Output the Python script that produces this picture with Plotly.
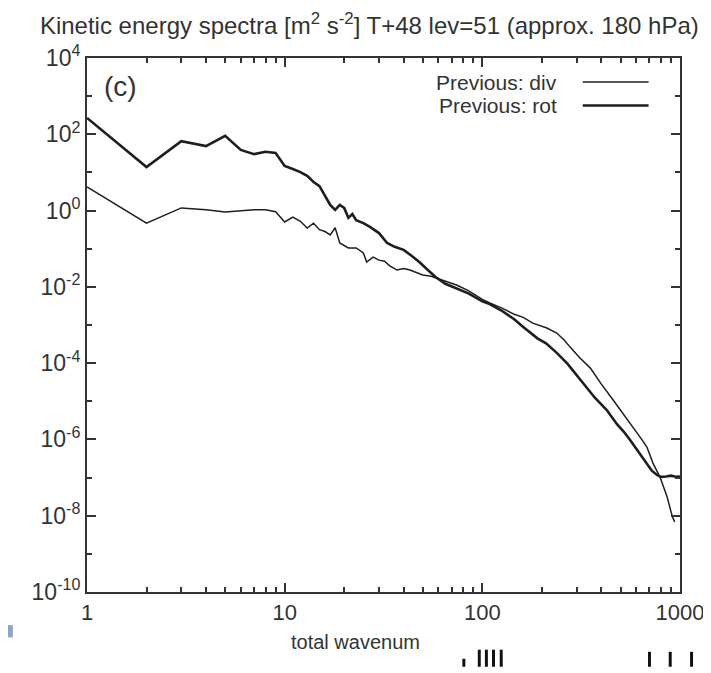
import plotly.graph_objects as go

# ---- data (log10 of spectral energy) ----
k_div = [1, 2, 3, 4, 5, 6, 7, 8, 9, 10, 11, 12, 13, 14, 15, 16, 17, 18, 19, 21, 23, 25, 26, 28, 30,
         32, 34, 37, 40, 43, 46, 50, 55, 59, 65, 74, 85, 100, 109, 125, 145, 161, 180, 212, 238,
         260, 278, 310, 352, 400, 458, 520, 580, 640, 680, 730, 794, 860, 915, 940]
log_div = [0.62, -0.33, 0.07, 0.02, -0.04, -0.01, 0.02, 0.02, -0.03, -0.30, -0.17, -0.28, -0.46,
           -0.33, -0.50, -0.55, -0.64, -0.45, -0.85, -0.98, -0.98, -1.11, -1.35, -1.22, -1.30,
           -1.33, -1.45, -1.56, -1.52, -1.56, -1.62, -1.69, -1.72, -1.77, -1.85, -1.95, -2.10,
           -2.33, -2.42, -2.55, -2.72, -2.80, -2.95, -3.08, -3.21, -3.40, -3.58, -3.85, -4.13,
           -4.55, -4.96, -5.35, -5.67, -6.00, -6.20, -6.62, -7.00, -7.50, -8.03, -8.16]

k_rot = [1, 2, 3, 4, 5, 6, 7, 8, 9, 10, 11, 12, 13, 14, 15, 16, 17, 18, 19, 20, 21, 22, 23, 25,
         27, 30, 33, 36, 40, 44, 48, 53, 58, 65, 74, 85, 100, 109, 125, 145, 161, 190, 210, 238,
         270, 300, 323, 370, 426, 480, 520, 558, 620, 680, 720, 765, 800, 850, 900, 950, 1000]
log_rot = [2.43, 1.14, 1.82, 1.69, 1.96, 1.59, 1.48, 1.54, 1.51, 1.17, 1.09, 1.01, 0.91, 0.75,
           0.64, 0.38, 0.15, 0.02, 0.15, 0.07, -0.19, -0.09, -0.25, -0.33, -0.43, -0.59, -0.85,
           -0.95, -1.03, -1.19, -1.35, -1.56, -1.74, -1.92, -2.05, -2.17, -2.38, -2.45, -2.62,
           -2.85, -3.05, -3.35, -3.48, -3.73, -4.02, -4.30, -4.52, -4.90, -5.23, -5.60, -5.80,
           -6.01, -6.35, -6.62, -6.82, -6.93, -6.98, -6.97, -6.95, -6.98, -6.97]

x_major = [1, 10, 100, 1000]
x_labels = ["1", "10", "100", "1000"]
y_exp_major = [4, 2, 0, -2, -4, -6, -8, -10]
y_exp_minor = [3, 1, -1, -3, -5, -7, -9]

title_text = "Kinetic energy spectra [m<sup>2</sup> s<sup>-2</sup>] T+48 lev=51 (approx. 180 hPa)"
legend_names = ["Previous: div", "Previous: rot"]
xlabel_text = "total wavenum"
panel_text = "(c)"

FONT = "Liberation Sans, Arial, sans-serif"
INK = "#1e1e1e"
GREY = "#333333"

e_div = [10 ** v for v in log_div]
e_rot = [10 ** v for v in log_rot]

fig = go.Figure()
fig.add_trace(go.Scatter(x=k_div, y=e_div, mode="lines", name=legend_names[0],
                         line=dict(color=INK, width=1.5)))
fig.add_trace(go.Scatter(x=k_rot, y=e_rot, mode="lines", name=legend_names[1],
                         line=dict(color=INK, width=2.6)))

x_minor = [m * d for d in [1, 10, 100] for m in range(2, 10)]

# page body has an 8px margin, so the figure is 8px smaller than the window
fig.update_layout(
    width=703, height=665,
    margin=dict(l=79, r=31, t=50, b=81),
    paper_bgcolor="white", plot_bgcolor="white",
    showlegend=False,
    font=dict(family=FONT, color=GREY, size=22),
    title=dict(text=title_text, x=0.514, xanchor="center", y=0.974, yanchor="middle",
               font=dict(family=FONT, size=24, color=GREY)),
    xaxis=dict(type="log", range=[0, 3], showgrid=False, zeroline=False, automargin=False,
               showline=True, linecolor=GREY, linewidth=2, mirror="allticks",
               ticks="inside", ticklen=9, tickwidth=1.5, tickcolor=GREY,
               tickmode="array", tickvals=x_major, ticktext=x_labels,
               tickfont=dict(size=22),
               minor=dict(tickmode="array", tickvals=x_minor, ticks="inside", ticklen=5,
                          tickwidth=1.5, tickcolor=GREY, showgrid=False)),
    yaxis=dict(type="log", range=[-10, 4], showgrid=False, zeroline=False, automargin=False,
               showline=True, linecolor=GREY, linewidth=2, mirror="allticks",
               ticks="inside", ticklen=9, tickwidth=1.5, tickcolor=GREY,
               tickmode="array", tickvals=[10.0 ** e for e in y_exp_major],
               ticktext=["10<sup>%d</sup>" % e for e in y_exp_major],
               tickfont=dict(size=23),
               minor=dict(tickmode="array", tickvals=[10.0 ** e for e in y_exp_minor],
                          ticks="inside", ticklen=5, tickwidth=1.5, tickcolor=GREY,
                          showgrid=False)),
)

# panel label
fig.add_annotation(text=panel_text, xref="paper", yref="paper", x=0.056, y=0.946,
                   showarrow=False, font=dict(size=28, color=GREY), xanchor="center",
                   yanchor="middle")

# gnuplot-style key: text then line sample
for i, (name, w) in enumerate(zip(legend_names, [1.5, 2.6])):
    yy = 0.955 - i * 0.044
    fig.add_annotation(text=name, xref="paper", yref="paper", x=0.796, y=yy,
                       xanchor="right", yanchor="middle", showarrow=False,
                       font=dict(size=21, color=GREY))
    fig.add_shape(type="line", xref="paper", yref="paper", x0=0.836, x1=0.947, y0=yy, y1=yy,
                  line=dict(color=INK, width=w))

# cut-off axis title and stray marks below the plot (as in the source image)
fig.add_annotation(text=xlabel_text, xref="paper", yref="paper", x=0.452, y=-0.094,
                   xanchor="center", yanchor="middle", showarrow=False,
                   font=dict(size=20, color=GREY))
fig.add_shape(type="rect", xref="paper", yref="paper", x0=-0.137, x1=-0.125, y0=-0.085,
              y1=-0.062, fillcolor="#8fa3c7", line=dict(width=0))

stray_marks = [(0.633, 0.638, -0.140, -0.125), (0.659, 0.664, -0.140, -0.108),
               (0.671, 0.676, -0.140, -0.108), (0.683, 0.688, -0.140, -0.108),
               (0.696, 0.701, -0.140, -0.108), (0.946, 0.951, -0.140, -0.112),
               (0.981, 0.986, -0.140, -0.112), (1.017, 1.022, -0.140, -0.112)]
for x0, x1, y0, y1 in stray_marks:
    fig.add_shape(type="rect", xref="paper", yref="paper", x0=x0, x1=x1, y0=y0, y1=y1,
                  fillcolor="#111111", line=dict(width=0))

fig.write_html("out.html")
